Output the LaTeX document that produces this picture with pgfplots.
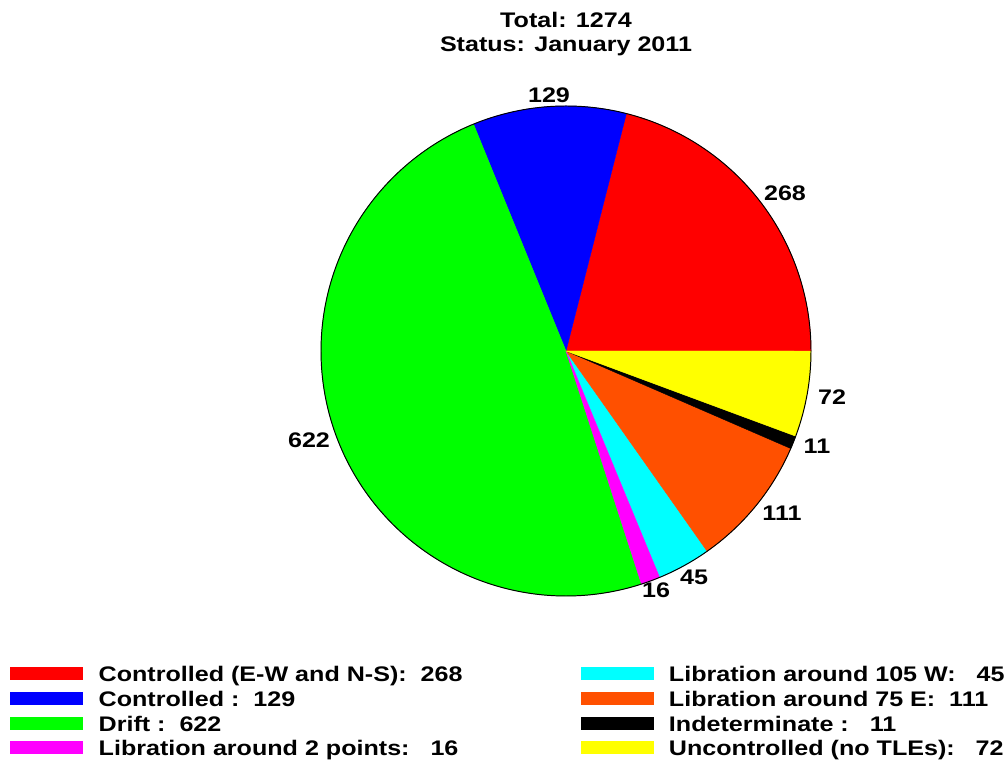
\documentclass[border=0pt]{standalone}
\usepackage{fontspec}
\setmainfont{Liberation Sans}[FakeStretch=1.19]
\usepackage{pgfplots}
\pgfplotsset{compat=1.18}

\definecolor{PieRed}{HTML}{FF0000}
\definecolor{PieBlue}{HTML}{0000FF}
\definecolor{PieGreen}{HTML}{00FF00}
\definecolor{PieMagenta}{HTML}{FF00FF}
\definecolor{PieCyan}{HTML}{00FFFF}
\definecolor{PieOrange}{HTML}{FF5000}
\definecolor{PieBlack}{HTML}{000000}
\definecolor{PieYellow}{HTML}{FFFF00}

\newcommand{\lbl}{\fontsize{15}{18}\selectfont\bfseries}

% pie centre (566,410) and radius 245 in pixel units, total 1274
% #1 colour, #2 count before this slice, #3 count, #4 legend text
\newcommand{\slice}[4]{%
  \pgfmathsetmacro\angA{#2/1274*360}%
  \pgfmathsetmacro\angB{(#2+#3)/1274*360}%
  \addplot[fill=#1,draw=#1,line width=0.3pt,domain=\angA:\angB,samples=90,variable=\t]
    ({566+245*cos(\t)},{410+245*sin(\t)}) -- (axis cs:566,410) -- cycle;
  \addlegendentry{#4}%
}

\begin{document}
\begin{tikzpicture}
\begin{axis}[
  width=252mm,height=190.25mm,scale only axis,
  xmin=0,xmax=1008,ymin=0,ymax=761,
  hide axis,clip=false,
  legend columns=2,
  legend style={at={(axis cs:10,95)},anchor=north west,draw=none,fill=none,
    inner sep=0pt,font=\lbl,row sep=3.07pt,
    nodes={inner sep=0pt,text height=11pt,text depth=3.5pt},
    cells={anchor=west},
    /tikz/every odd column/.append style={column sep=4mm},
    /tikz/every even column/.append style={column sep=29.5mm}},
  legend image code/.code={\fill (0mm,-0.78mm) rectangle (18mm,2.22mm);},
]
  % plotted in legend order (rows of two)
  \slice{PieRed}{0}{268}{Controlled (E-W and N-S):\ \ 268}
  \slice{PieCyan}{1035}{45}{Libration around 105 W:\ \ \ 45}
  \slice{PieBlue}{268}{129}{Controlled :\ \ 129}
  \slice{PieOrange}{1080}{111}{Libration around 75 E:\ \ 111}
  \slice{PieGreen}{397}{622}{Drift :\ \ 622}
  \slice{PieBlack}{1191}{11}{Indeterminate :\ \ \ 11}
  \slice{PieMagenta}{1019}{16}{Libration around 2 points:\ \ \ 16}
  \slice{PieYellow}{1202}{72}{Uncontrolled (no TLEs):\ \ \ 72}
  \addplot[black,line width=0.7pt,domain=0:360,samples=361,forget plot]
    ({566+245*cos(x)},{410+245*sin(x)});

  \node[font=\lbl] at (axis cs:566,741) {Total: 1274};
  \node[font=\lbl] at (axis cs:566,715) {Status: January 2011};

  \node[font=\lbl] at (axis cs:785,568) {268};
  \node[font=\lbl] at (axis cs:549,666) {129};
  \node[font=\lbl] at (axis cs:309,321) {622};
  \node[font=\lbl] at (axis cs:656,171) {16};
  \node[font=\lbl] at (axis cs:694,184) {45};
  \node[font=\lbl] at (axis cs:782,248) {111};
  \node[font=\lbl] at (axis cs:817,315) {11};
  \node[font=\lbl] at (axis cs:832,364) {72};
\end{axis}
\pgfresetboundingbox
\path[use as bounding box] (0,0) rectangle (252mm,190.25mm);
\end{tikzpicture}
\end{document}
